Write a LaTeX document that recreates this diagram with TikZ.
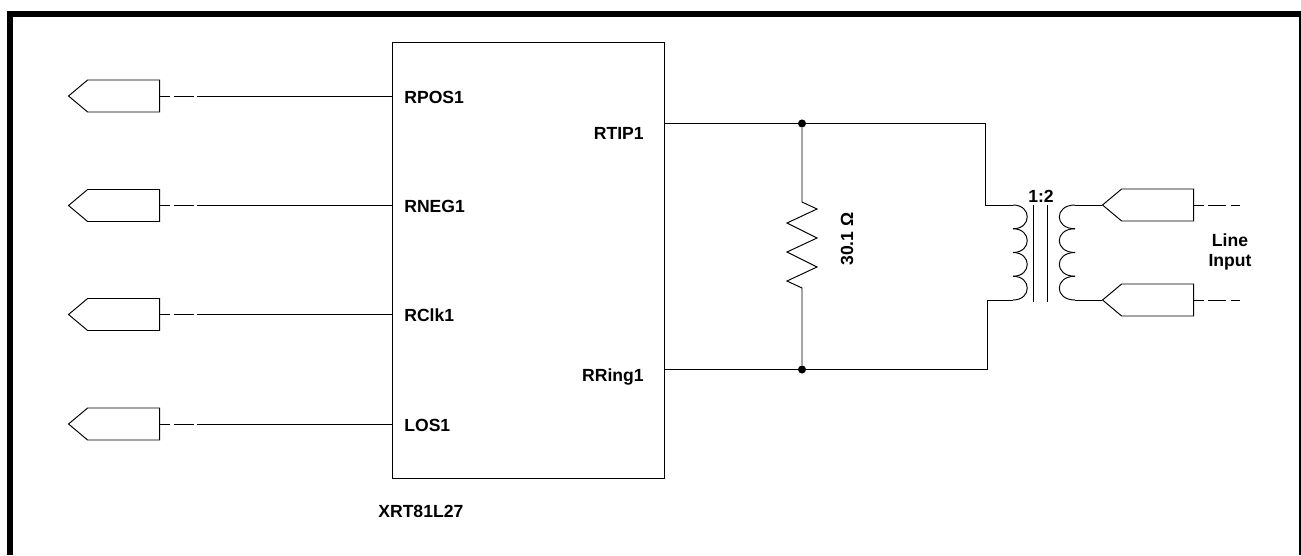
\documentclass[tikz,border=0pt]{standalone}
\usepackage{fontspec}
\setmainfont{Liberation Sans}
\usetikzlibrary{shapes.symbols}
\tikzset{
    wire/.style={line width=0.55pt},
    label/.style={font=\fontsize{10}{12}\selectfont\bfseries, inner sep=0pt},
    conn/.style={signal, draw, line width=0.55pt, signal from=nowhere, minimum width=1.82cm, minimum height=0.64cm, inner sep=0pt, signal pointer angle=80},
    dashleft/.style={wire, dash pattern=on 0.2cm off 0.08cm on 0.4cm off 0.06cm on 10cm off 1cm},
    dashright/.style={wire, dash pattern=on 0.2cm off 0.08cm on 0.36cm off 0.1cm on 0.18cm off 1cm},
    junction/.style={circle, fill=black, inner sep=0pt, minimum size=4.6pt},
}
\begin{document}
\begin{tikzpicture}[x=0.02cm,y=-0.02cm]
            \useasboundingbox (0,0) rectangle (1301,555);
            \draw[line width=0.12cm] (10,555) -- (10,14) -- (1302,14) -- (1302,555);
            \node (chip) at (528.5,260.5)[draw, line width=0.55pt, minimum width=5.46cm, minimum height=8.74cm, inner sep=0pt] {};
            \node (part) at (378,511)[label, anchor=west] {XRT81L27};
            \foreach \name/\txt/\y in {rpos/RPOS1/96, rneg/RNEG1/205.5, rclk/RClk1/314.5, los/LOS1/424} {
                \node (\name) at (160,\y)[conn, signal to=west, anchor=east] {};
                \coordinate (\name pin) at (chip.west |- 0,\y);
                \node (\name txt) at (404,\y+1)[label, anchor=west] {\txt};
                \draw[dashleft] (\name.east) -- (\name pin);
            }
            \node (rtip) at (644,133)[label, anchor=east] {RTIP1};
            \node (rring) at (644,377)[label, anchor=east] {RRing1};
            \coordinate (tippin) at (chip.east |- 0,123.5);
            \coordinate (ringpin) at (chip.east |- 0,369.5);
            \node (dottop) at (802,123.5)[junction] {};
            \node (dotbot) at (802,369.5)[junction] {};
            % resistor
            \coordinate (resa) at (802,202);
            \coordinate (resb) at (802,288);
            \draw[wire] (dottop) -- (resa) -- (817,209) -- (787,223) -- (817,238) -- (787,252) -- (817,267) -- (787,281) -- (resb) -- (dotbot);
            \node (resval) at (847,239)[label, rotate=90] {30.1 Ω};
            % transformer
            \coordinate (priA) at (1013,205);
            \coordinate (priB) at (1013,300);
            \coordinate (secA) at (1075,205);
            \coordinate (secB) at (1075,300);
            \draw[wire] (tippin) -- (dottop) -- (985,123.5) -- (985,205) -- (priA);
            \draw[wire] (ringpin) -- (dotbot) -- (987,369.5) -- (987,300) -- (priB);
            \foreach \y in {205,228.75,252.5,276.25} {
                \draw[wire] (1013,\y) .. controls (1032,\y) and (1032,\y+23.75) .. (1013,\y+23.75);
                \draw[wire] (1075,\y) .. controls (1054,\y) and (1054,\y+23.75) .. (1075,\y+23.75);
            }
            \coordinate (coreA) at (1033,205);
            \coordinate (coreB) at (1033,302);
            \coordinate (coreC) at (1047,205);
            \coordinate (coreD) at (1047,302);
            \draw[wire] (coreA) -- (coreB);
            \draw[wire] (coreC) -- (coreD);
            \node (ratio) at (1041,196)[label] {1:2};
            \node (connA) at (1194,205)[conn, signal to=west, anchor=east] {};
            \node (connB) at (1194,300)[conn, signal to=west, anchor=east] {};
            \coordinate (endA) at (1241,205);
            \coordinate (endB) at (1241,300);
            \draw[wire] (secA) -- (connA.west);
            \draw[wire] (secB) -- (connB.west);
            \draw[dashright] (connA.east) -- (endA);
            \draw[dashright] (connB.east) -- (endB);
            \node (linetxt) at (1230,240)[label] {Line};
            \node (inputtxt) at (1230,262)[label] {Input};
\end{tikzpicture}
\end{document}
